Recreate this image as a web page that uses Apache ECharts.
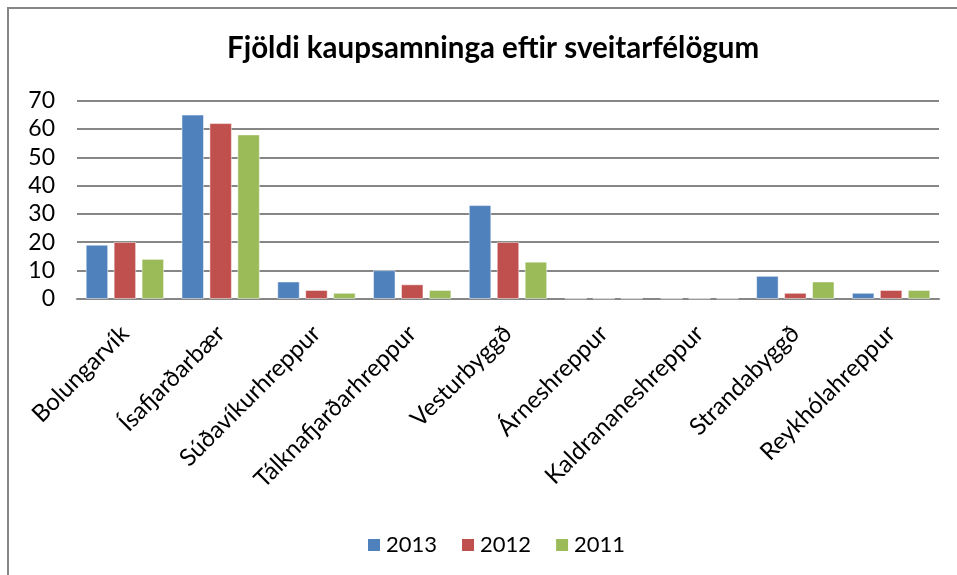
<!DOCTYPE html>
<html>
<head>
<meta charset="utf-8">
<script src="https://cdn.jsdelivr.net/npm/echarts@6/dist/echarts.min.js"></script>
<style>
html,body{margin:0;padding:0;background:#fff;}
#main{width:957px;height:575px;}
</style>
</head>
<body>
<div id="main"></div>
<script>
const categories = ['Bolungarvík','Ísafjarðarbær','Súðavíkurhreppur','Tálknafjarðarhreppur','Vesturbyggð','Árneshreppur','Kaldrananeshreppur','Strandabyggð','Reykhólahreppur'];
const seriesNames = ['2013','2012','2011'];
const values2013 = [19, 65, 6, 10, 33, 0, 0, 8, 2];
const values2012 = [20, 62, 3, 5, 20, 0, 0, 2, 3];
const values2011 = [14, 58, 2, 3, 13, 0, 0, 6, 3];
const colors = ['#4F81BD','#C0504D','#9BBB59'];
const font = 'Lato, "Open Sans", sans-serif';

const chart = echarts.init(document.getElementById('main'), null, {renderer:'canvas'});
const mk = (name, data, color) => ({
  name, type:'bar', data, barWidth:22, barGap:'27%',
  itemStyle:{color, borderColor:'#fff', borderWidth:0.5}
});
chart.setOption({
  animation:false,
  backgroundColor:'#fff',
  color: colors,
  title:{
    text:'Fjöldi kaupsamninga eftir sveitarfélögum',
    left:222, top:28,
    textStyle:{fontFamily:font, fontWeight:'bold', fontSize:29.5, color:'#000'}
  },
  legend:{
    data: seriesNames,
    bottom:14, left:361,
    itemWidth:14, itemHeight:14, itemGap:23,
    icon:'rect',
    textStyle:{fontFamily:font, fontSize:22, color:'#000'}
  },
  grid:{left:77, right:18, top:100.7, bottom:276.3, containLabel:false},
  xAxis:{
    type:'category', data:categories,
    axisLine:{lineStyle:{color:'#868686', width:2}},
    axisTick:{show:false},
    axisLabel:{rotate:45, fontFamily:font, fontSize:24, color:'#000', margin:31, interval:0}
  },
  yAxis:{
    type:'value', min:0, max:70, interval:10,
    axisLine:{show:false}, axisTick:{show:false},
    splitLine:{lineStyle:{color:'#868686', width:2}},
    axisLabel:{fontFamily:font, fontSize:23, color:'#000', margin:22}
  },
  graphic:[
    {type:'polyline', shape:{points:[[8,575],[8,8],[957,8]]}, style:{stroke:'#868686', lineWidth:2, fill:null}}
  ],
  series:[
    mk(seriesNames[0], values2013, colors[0]),
    mk(seriesNames[1], values2012, colors[1]),
    mk(seriesNames[2], values2011, colors[2])
  ]
});
</script>
</body>
</html>
